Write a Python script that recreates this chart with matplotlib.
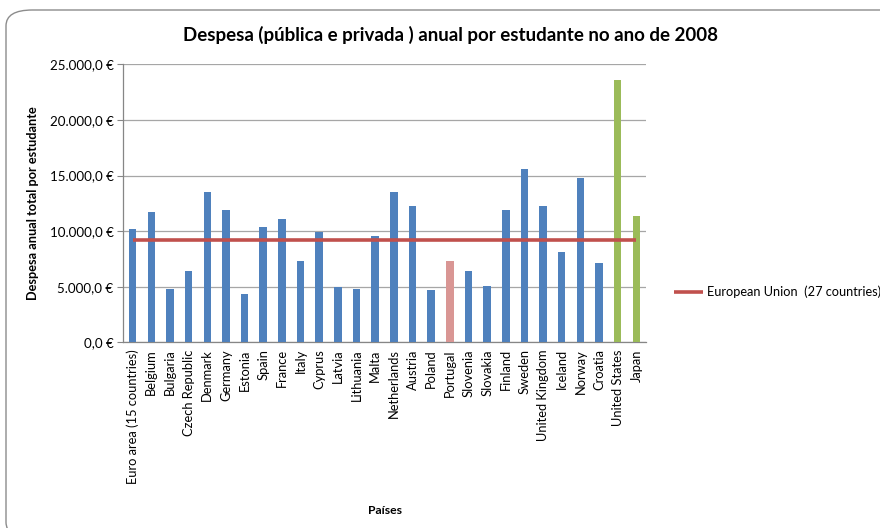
import matplotlib
matplotlib.use("Agg")
import matplotlib.pyplot as plt
from matplotlib.patches import FancyBboxPatch
from matplotlib.ticker import FuncFormatter, MultipleLocator

countries = ["Euro area (15 countries)", "Belgium", "Bulgaria", "Czech Republic", "Denmark",
             "Germany", "Estonia", "Spain", "France", "Italy", "Cyprus", "Latvia", "Lithuania",
             "Malta", "Netherlands", "Austria", "Poland", "Portugal", "Slovenia", "Slovakia",
             "Finland", "Sweden", "United Kingdom", "Iceland", "Norway", "Croatia",
             "United States", "Japan"]
spending = [10150, 11720, 4770, 6440, 13490, 11900, 4340, 10340, 11120, 7310, 9950, 4970, 4770,
            9560, 13490, 12230, 4680, 7310, 6440, 5060, 11900, 15560, 12230, 8120, 14780, 7100,
            23590, 11390]
eu27_average = 9200

blue, pink, green, red = "#4F81BD", "#D99694", "#9BBB59", "#C0504D"
colors = [pink if c == "Portugal" else green if c in ("United States", "Japan") else blue
          for c in countries]

plt.rcParams["font.family"] = ["Lato", "DejaVu Sans"]

fig = plt.figure(figsize=(8.8, 5.28), dpi=100)
W, H = 880, 528

# chart frame, drawn behind the axes
frame = FancyBboxPatch((6 / W, -10 / H), 900 / W, 528 / H,
                       boxstyle="round,pad=0,rounding_size=0.03",
                       transform=fig.transFigure, facecolor="white",
                       edgecolor="#8C8C8C", linewidth=1.0, zorder=-10)
fig.patches.append(frame)

ax = fig.add_axes([123.3 / W, (H - 342.3) / H, (645.7 - 123.3) / W, 278 / H])
ax.set_zorder(1)
ax.set_facecolor("none")

x = list(range(len(countries)))
ax.bar(x, spending, width=0.40, color=colors, edgecolor="none", zorder=3)
ax.plot([x[0], x[-1]], [eu27_average, eu27_average], color=red, linewidth=2.6,
        zorder=4, label="European Union  (27 countries)", solid_capstyle="butt")

ax.set_xlim(-0.5, len(countries) - 0.5)
ax.set_ylim(0, 25000)
ax.yaxis.set_major_locator(MultipleLocator(5000))

def euro(v, pos):
    s = f"{v:,.1f}".replace(",", "X").replace(".", ",").replace("X", ".")
    return f"{s} €"

ax.yaxis.set_major_formatter(FuncFormatter(euro))
ax.grid(axis="y", color="#A6A6A6", linewidth=0.9, zorder=0)
ax.set_axisbelow(True)
for s in ("top", "right"):
    ax.spines[s].set_visible(False)
for s in ("left", "bottom"):
    ax.spines[s].set_color("#868686")
    ax.spines[s].set_linewidth(0.9)

ax.set_xticks(x)
ax.set_xticklabels(countries, rotation=90, fontsize=9.3)
ax.tick_params(axis="x", length=0, pad=5)
ax.tick_params(axis="y", length=4, color="#868686", labelsize=9.6, pad=3)

ax.set_ylabel("Despesa anual total por estudante", fontsize=9.2, fontweight="bold", labelpad=8)
fig.text(385 / W, 1 - 510 / H, "Países", ha="center", va="center",
         fontsize=8.8, fontweight="bold")
fig.text(450 / W, 1 - 35 / H, "Despesa (pública e privada ) anual por estudante no ano de 2008",
         ha="center", va="center", fontsize=13.5, fontweight="bold")

fig.legend(loc="center left", bbox_to_anchor=(662 / W, 1 - 292 / H), frameon=False,
           fontsize=9.2, handlelength=2.3, handletextpad=0.3)

fig.savefig("out.png", dpi=100)
